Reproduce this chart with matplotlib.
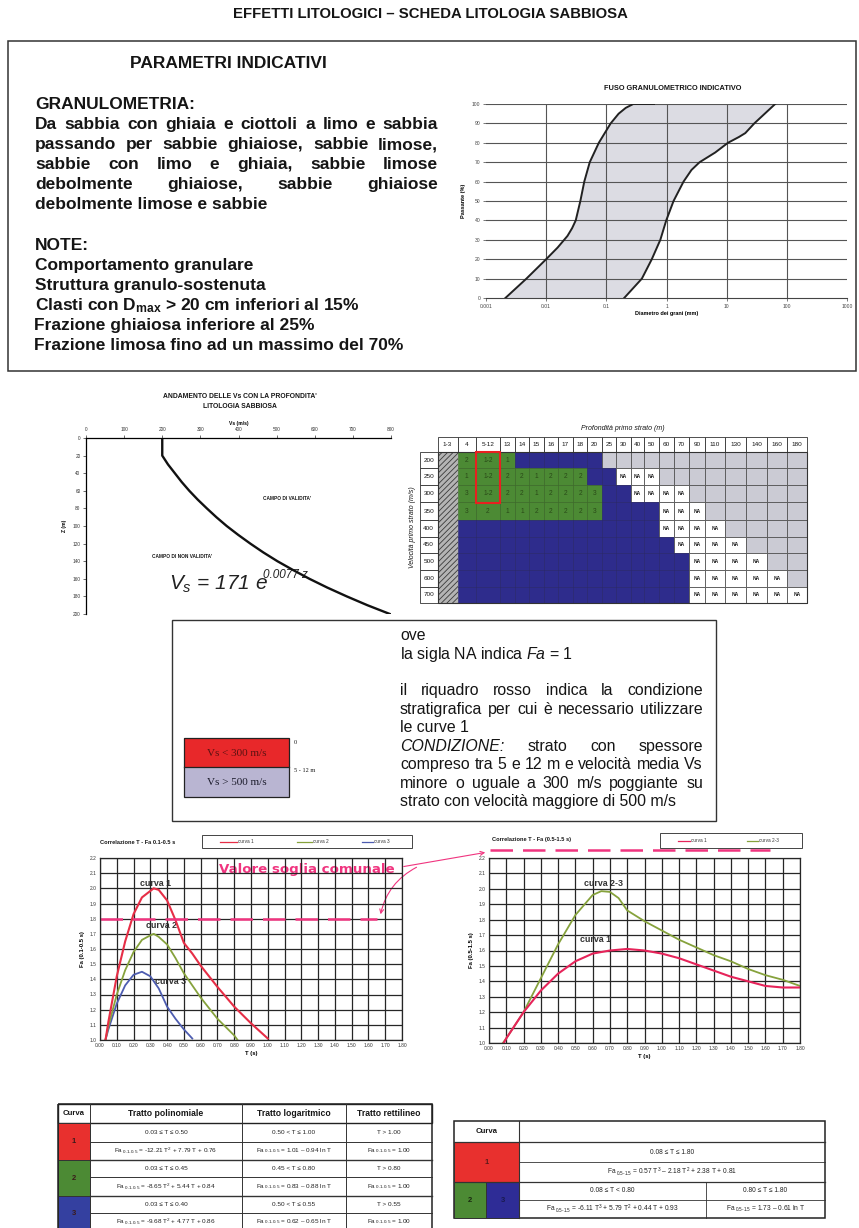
import numpy as np
import matplotlib
matplotlib.use('Agg')
import matplotlib.pyplot as plt
from matplotlib.patches import Rectangle, FancyArrowPatch
from matplotlib.ticker import NullLocator, FixedLocator, FormatStrFormatter

plt.rcParams['font.family'] = ['Liberation Sans', 'DejaVu Sans']
plt.rcParams['mathtext.fontset'] = 'custom'
plt.rcParams['mathtext.rm'] = 'Liberation Sans'
plt.rcParams['mathtext.it'] = 'Liberation Sans:italic'
plt.rcParams['mathtext.bf'] = 'Liberation Sans:bold'
plt.rcParams['hatch.linewidth'] = 0.6

# ------------------------------------------------------------------ data
title = 'EFFETTI LITOLOGICI – SCHEDA LITOLOGIA SABBIOSA'
gran_lines = ['Da sabbia con ghiaia e ciottoli a limo e sabbia',
              'passando per sabbie ghiaiose, sabbie limose,',
              'sabbie con limo e ghiaia, sabbie limose',
              'debolmente ghiaiose, sabbie ghiaiose',
              'debolmente limose e sabbie']
note_lines = ['Comportamento granulare',
              'Struttura granulo-sostenuta',
              r'Clasti con D$_{\mathbf{max}}$ > 20 cm inferiori al 15%',
              'Frazione ghiaiosa inferiore al 25%',
              'Frazione limosa fino ad un massimo del 70%']

# grain size envelope (diameter mm, passing %)
grain_fine_d = [0.0021, 0.0047, 0.010, 0.0155, 0.0226, 0.027, 0.031, 0.037, 0.043, 0.053, 0.075, 0.118, 0.16, 0.21, 0.28, 0.62]
grain_fine_p = [0, 10, 20, 26, 32, 36, 40, 50, 60, 70, 80, 90, 95, 98, 100, 100]
grain_coarse_d = [0.198, 0.39, 0.57, 0.79, 0.99, 1.31, 1.92, 2.6, 3.55, 6.45, 10.5, 16.0, 20.4, 28.8, 64]
grain_coarse_p = [0, 10, 20, 30, 40, 50, 60, 66, 70, 75, 80, 83, 85, 90, 100]
grain_xticks = [0.001, 0.01, 0.1, 1, 10, 100, 1000]
grain_xlabels = ['0.001', '0.01', '0.1', '1', '10', '100', '1000']
grain_yticks = [0, 10, 20, 30, 40, 50, 60, 70, 80, 90, 100]

# Vs with depth
vs_z = [0, 20, 30, 40, 50, 60, 70, 80, 90, 100, 110, 120, 130, 140, 150, 160, 170, 180, 190, 200]
vs_v = [200, 200, 215, 233, 251, 271, 293, 317, 342, 369, 399, 431, 465, 502, 543, 586, 633, 684, 738, 797]
vs_xticks = [0, 100, 200, 300, 400, 500, 600, 700, 800]
vs_yticks = [0, 20, 40, 60, 80, 100, 120, 140, 160, 180, 200]

# Fa abacus table
depth_cols = ['1-3', '4', '5-12', '13', '14', '15', '16', '17', '18', '20', '25', '30',
              '40', '50', '60', '70', '90', '110', '130', '140', '160', '180']
vel_rows = ['200', '250', '300', '350', '400', '450', '500', '600', '700']
fa_green = [['2', '1-2', '1'],
            ['1', '1-2', '2', '2', '1', '2', '2', '2'],
            ['3', '1-2', '2', '2', '1', '2', '2', '2', '3'],
            ['3', '2', '1', '1', '2', '2', '2', '2', '3'],
            [], [], [], [], []]
fa_blue = [6, 2, 2, 4, 13, 14, 15, 15, 15]
fa_na = [0, 3, 4, 3, 4, 4, 4, 5, 6]

# Fa curves 0.1-0.5 s
t1 = [0.03, 0.05, 0.10, 0.15, 0.20, 0.25, 0.32, 0.35, 0.40, 0.45, 0.50, 0.55, 0.60, 0.65, 0.70, 0.80, 0.90, 1.00]
fa1 = [0.98, 1.12, 1.42, 1.65, 1.83, 1.94, 2.00, 1.99, 1.92, 1.79, 1.64, 1.57, 1.49, 1.42, 1.35, 1.22, 1.11, 1.01]
t2 = [0.03, 0.05, 0.10, 0.15, 0.20, 0.25, 0.30, 0.32, 0.35, 0.40, 0.45, 0.50, 0.60, 0.70, 0.80, 0.82]
fa2 = [0.99, 1.09, 1.30, 1.46, 1.58, 1.66, 1.69, 1.70, 1.68, 1.63, 1.54, 1.44, 1.28, 1.14, 1.03, 1.00]
t3 = [0.03, 0.05, 0.10, 0.15, 0.20, 0.25, 0.30, 0.35, 0.40, 0.45, 0.50, 0.55]
fa3 = [0.99, 1.07, 1.24, 1.36, 1.43, 1.45, 1.42, 1.34, 1.22, 1.14, 1.07, 1.01]
soglia_fa = 1.8
soglia_t = [0.0, 1.65]

# Fa curves 0.5-1.5 s
tr = [0.08, 0.10, 0.20, 0.30, 0.40, 0.50, 0.60, 0.70, 0.80, 0.90, 1.00, 1.10, 1.20, 1.30, 1.40, 1.50, 1.60, 1.70, 1.80]
fr1 = [0.99, 1.03, 1.20, 1.34, 1.45, 1.53, 1.58, 1.60, 1.61, 1.60, 1.58, 1.55, 1.51, 1.47, 1.43, 1.40, 1.37, 1.36, 1.36]
tr23 = [0.08, 0.10, 0.20, 0.30, 0.40, 0.50, 0.60, 0.65, 0.70, 0.75, 0.80, 0.90, 1.00, 1.10, 1.20, 1.30, 1.40, 1.50, 1.60, 1.70, 1.80]
fr23 = [1.00, 1.03, 1.20, 1.42, 1.64, 1.83, 1.96, 1.985, 1.98, 1.94, 1.86, 1.79, 1.73, 1.67, 1.62, 1.57, 1.53, 1.48, 1.44, 1.41, 1.37]
fa_xticks = [round(0.1 * i, 2) for i in range(19)]
fa_yticks = [round(1.0 + 0.1 * i, 1) for i in range(13)]

# formula tables
tab1_head = ['Curva', 'Tratto polinomiale', 'Tratto logaritmico', 'Tratto rettilineo']
tab1_rows = [
    ['0.03 ≤ T ≤ 0.50', '0.50 < T ≤ 1.00', 'T > 1.00'],
    [r'Fa$_{\ 0.1\text{-}0.5}$ = -12.21 T$^2$ + 7.79 T + 0.76', r'Fa$_{\ 0.1\text{-}0.5}$ = 1.01 – 0.94 ln T', r'Fa$_{\ 0.1\text{-}0.5}$ = 1.00'],
    ['0.03 ≤ T ≤ 0.45', '0.45 < T ≤ 0.80', 'T > 0.80'],
    [r'Fa$_{\ 0.1\text{-}0.5}$ = -8.65 T$^2$ + 5.44 T + 0.84', r'Fa$_{\ 0.1\text{-}0.5}$ = 0.83 – 0.88 ln T', r'Fa$_{\ 0.1\text{-}0.5}$ = 1.00'],
    ['0.03 ≤ T ≤ 0.40', '0.50 < T ≤ 0.55', 'T > 0.55'],
    [r'Fa$_{\ 0.1\text{-}0.5}$ = -9.68 T$^2$ + 4.77 T + 0.86', r'Fa$_{\ 0.1\text{-}0.5}$ = 0.62 – 0.65 ln T', r'Fa$_{\ 0.1\text{-}0.5}$ = 1.00'],
]
tab2_row1 = ['0.08 ≤ T ≤ 1.80', r'Fa$_{\ 0.5\text{-}1.5}$ = 0.57 T$^3$ – 2.18 T$^2$ + 2.38 T + 0.81']
tab2_row2 = ['0.08 ≤ T < 0.80', '0.80 ≤ T ≤ 1.80',
             r'Fa$_{\ 0.5\text{-}1.5}$ = -6.11 T$^3$ + 5.79 T$^2$ + 0.44 T + 0.93',
             r'Fa$_{\ 0.5\text{-}1.5}$ = 1.73 – 0.61 ln T']

# ------------------------------------------------------------------ figure
W, H = 859, 1228
fig = plt.figure(figsize=(W / 100, H / 100), dpi=100)
bg = fig.add_axes([0, 0, 1, 1])
bg.set_xlim(0, W)
bg.set_ylim(H, 0)
bg.axis('off')
renderer = fig.canvas.get_renderer()
INK = '#151515'
PINK = '#f0347f'
RED = '#e8302e'
GREEN = '#4c8a34'
BLUE = '#2e2c8c'


def pax(x0, y0, x1, y1):
    return fig.add_axes([x0 / W, 1 - y1 / H, (x1 - x0) / W, (y1 - y0) / H])


def justify(words, x0, x1, y, styles=None, **kw):
    ts = []
    for i, w in enumerate(words):
        extra = styles[i] if styles else {}
        ts.append(bg.text(0, y, w, va='baseline', ha='left', **kw, **extra))
    ws = [t.get_window_extent(renderer).width for t in ts]
    gap = (x1 - x0 - sum(ws)) / max(len(words) - 1, 1)
    x = x0
    for t, w in zip(ts, ws):
        t.set_x(x)
        x += w + gap


def rect(x0, y0, x1, y1, **kw):
    bg.add_patch(Rectangle((x0, y0), x1 - x0, y1 - y0, **kw))


# title
bg.text(430, 18.5, title, ha='center', va='baseline', fontsize=10.7, fontweight='bold', color=INK)

# top box
rect(7.5, 41, 856, 371, fill=False, ec='#333', lw=1.1)
bg.text(228, 68.5, 'PARAMETRI INDICATIVI', ha='center', va='baseline', fontsize=12.5, fontweight='bold', color=INK)
bg.text(35, 109, 'GRANULOMETRIA:', va='baseline', fontsize=12.5, fontweight='bold', color=INK)
body = dict(fontsize=12.5, fontweight='bold', color=INK)
for i, line in enumerate(gran_lines):
    yb = 129.3 + 20 * i
    if i < len(gran_lines) - 1:
        justify(line.split(), 35, 438, yb, **body)
    else:
        bg.text(35, yb, line, va='baseline', **body)
bg.text(35, 250, 'NOTE:', va='baseline', **body)
for i, line in enumerate(note_lines):
    bg.text(35 if i < 3 else 33.5, 270 + 20 * i, line, va='baseline', **body)

# grain-size chart
bg.text(673, 88, 'FUSO GRANULOMETRICO INDICATIVO', ha='center', va='center', fontsize=5.3, fontweight='bold', color=INK)
ag = pax(486, 104, 847, 298)
ag.set_xscale('log')
poly_x = grain_fine_d + grain_coarse_d[::-1]
poly_y = grain_fine_p + grain_coarse_p[::-1]
ag.fill(poly_x, poly_y, color='#dcdce3', lw=0, zorder=1)
for v in grain_xticks[1:-1]:
    ag.axvline(v, color='#555', lw=0.8, zorder=2)
for v in grain_yticks[1:]:
    ag.axhline(v, color='#555', lw=0.8, zorder=2)
ag.plot(grain_fine_d, grain_fine_p, color='#222', lw=1.4, zorder=3)
ag.plot(grain_coarse_d, grain_coarse_p, color='#222', lw=1.4, zorder=3)
ag.set_xlim(1e-3, 1e3)
ag.set_ylim(0, 100)
ag.xaxis.set_major_locator(FixedLocator(grain_xticks))
ag.xaxis.set_minor_locator(NullLocator())
ag.set_xticklabels(grain_xlabels)
ag.set_yticks(grain_yticks)
for s in ['top', 'right', 'left']:
    ag.spines[s].set_visible(False)
ag.spines['bottom'].set_color('#444')
ag.spines['bottom'].set_linewidth(0.8)
ag.tick_params(labelsize=3.6, length=2, width=0.5, pad=2, colors='#444')
ag.set_facecolor('none')
ag.set_ylabel('Passante (%)', fontsize=4, fontweight='bold', labelpad=4)
ag.set_xlabel('Diametro dei grani (mm)', fontsize=4, fontweight='bold', labelpad=2)

# Vs chart
bg.text(240, 396, "ANDAMENTO DELLE Vs CON LA PROFONDITA'", ha='center', va='center', fontsize=4.9, fontweight='bold', color=INK)
bg.text(240, 407, 'LITOLOGIA SABBIOSA', ha='center', va='center', fontsize=4.9, fontweight='bold', color=INK)
av = pax(86, 438, 391, 614)
av.plot(vs_v, vs_z, color='#111', lw=1.7)
av.set_xlim(0, 800)
av.set_ylim(200, 0)
av.set_xticks(vs_xticks)
av.set_yticks(vs_yticks)
av.xaxis.tick_top()
av.xaxis.set_label_position('top')
av.spines['bottom'].set_visible(False)
av.spines['right'].set_visible(False)
av.spines['top'].set_linewidth(0.9)
av.spines['left'].set_linewidth(0.9)
av.tick_params(labelsize=3.4, length=2, width=0.5, pad=2, colors='#333')
av.set_xlabel('Vs (m/s)', fontsize=3.6, fontweight='bold', labelpad=2)
av.set_ylabel('Z (m)', fontsize=3.6, fontweight='bold', labelpad=4)
av.set_facecolor('none')
bg.text(287, 498, "CAMPO DI VALIDITA'", ha='center', va='center', fontsize=3.4, fontweight='bold', color=INK)
bg.text(182, 556, "CAMPO DI NON VALIDITA'", ha='center', va='center', fontsize=3.4, fontweight='bold', color=INK)
bg.text(169, 590, r'$\mathit{V_s}$ = 171 $\mathit{e}$', va='baseline',
        fontsize=15, style='italic', color='#222')
bg.text(263, 578, '0.0077 z', va='baseline', fontsize=8.5, style='italic', color='#222')

# Fa table
bg.text(623, 428, 'Profondità primo strato (m)', ha='center', va='center', fontsize=5, style='italic', color=INK)
bg.text(413, 527, 'Velocità primo strato (m/s)', ha='center', va='center', fontsize=5, style='italic', rotation=90, color=INK)
col_edges = [437.5, 457.5, 476, 500, 514.6, 529.1, 543.7, 558.2, 572.8, 587.3, 601.9, 616.4, 631,
             644, 659, 674, 689, 705, 725, 746, 767, 787, 807]
row_edges = [451.7, 468.3, 485, 502.3, 520, 536.7, 553.3, 570, 586.7, 603.3]
head_top = 436.7
for j, lab in enumerate(depth_cols):
    rect(col_edges[j], head_top, col_edges[j + 1], row_edges[0], fc='white', ec='#333', lw=0.6)
    bg.text((col_edges[j] + col_edges[j + 1]) / 2, (head_top + row_edges[0]) / 2, lab,
            ha='center', va='center', fontsize=4.6, color=INK)
for i, lab in enumerate(vel_rows):
    rect(420, row_edges[i], 437.5, row_edges[i + 1], fc='white', ec='#333', lw=0.6)
    bg.text(428.7, (row_edges[i] + row_edges[i + 1]) / 2, lab, ha='center', va='center', fontsize=4.6, color=INK)
# hatched first column
rect(col_edges[0], row_edges[0], col_edges[1], row_edges[-1], fc='#b4b4b4', ec='#3a3a3a', lw=0, hatch='//////')
for i in range(len(vel_rows)):
    y0, y1 = row_edges[i], row_edges[i + 1]
    ng = len(fa_green[i])
    nb = fa_blue[i]
    nn = fa_na[i]
    for j in range(1, len(depth_cols)):
        k = j - 1
        x0, x1 = col_edges[j], col_edges[j + 1]
        if k < ng:
            rect(x0, y0, x1, y1, fc=GREEN, ec='#3c6a28', lw=0.5)
            bg.text((x0 + x1) / 2, (y0 + y1) / 2, fa_green[i][k], ha='center', va='center',
                    fontsize=4.8, color='#2a4a18')
        elif k < ng + nb:
            rect(x0, y0, x1, y1, fc=BLUE, ec='#28266e', lw=0.5)
        elif k < ng + nb + nn:
            rect(x0, y0, x1, y1, fc='white', ec='#555', lw=0.6)
            bg.text((x0 + x1) / 2, (y0 + y1) / 2, 'NA', ha='center', va='center',
                    fontsize=3.6, fontweight='bold', color='#222')
        else:
            rect(x0, y0, x1, y1, fc='#cbcbd4', ec='#555', lw=0.6)
rect(col_edges[0], row_edges[0], col_edges[-1], row_edges[-1], fill=False, ec='#333', lw=0.8)
rect(476, 451.7, 500, 502.5, fill=False, ec='#e82020', lw=1.5)

# note box
rect(172, 620, 716, 821, fill=False, ec='#333', lw=1.0)
nb_kw = dict(fontsize=11.4, color=INK)
bg.text(400, 640, 'ove', va='baseline', **nb_kw)
bg.text(400, 659, r'la sigla NA indica $\mathit{Fa}$ = 1', va='baseline', **nb_kw)
justify('il riquadro rosso indica la condizione'.split(), 400, 703, 695, **nb_kw)
justify('stratigrafica per cui è necessario utilizzare'.split(), 400, 703, 714, **nb_kw)
bg.text(400, 732, 'le curve 1', va='baseline', **nb_kw)
cw = 'CONDIZIONE: strato con spessore'.split()
justify(cw, 400, 703, 751, styles=[dict(style='italic'), {}, {}, {}], **nb_kw)
justify('compreso tra 5 e 12 m e velocità media Vs'.split(), 400, 703, 769, **nb_kw)
justify('minore o uguale a 300 m/s poggiante su'.split(), 400, 703, 788, **nb_kw)
bg.text(400, 806, 'strato con velocità maggiore di 500 m/s', va='baseline', **nb_kw)
# stratigraphy sketch
rect(184, 738, 289, 767, fc='#e8282a', ec='none')
rect(184, 767, 289, 797, fc='#b9b5d2', ec='none')
rect(184, 738, 289, 797, fill=False, ec='#222', lw=0.9)
bg.plot([184, 289], [767, 767], color='#222', lw=0.9)
serif = ['Liberation Serif', 'DejaVu Serif']
bg.text(236.5, 753, 'Vs < 300 m/s', ha='center', va='center', fontsize=8, family=serif, color='#5a1212')
bg.text(236.5, 782.5, 'Vs > 500 m/s', ha='center', va='center', fontsize=8, family=serif, color='#1a1a2a')
bg.text(294, 742, '0', ha='left', va='center', fontsize=4.5, family=serif, color=INK)
bg.text(294, 771, '5 - 12 m', ha='left', va='center', fontsize=4.5, family=serif, color=INK)


# Fa charts
def fa_axes(x0, y0, x1, y1, ylabel):
    a = pax(x0, y0, x1, y1)
    a.set_xlim(0, 1.8)
    a.set_ylim(1.0, 2.2)
    a.set_xticks(fa_xticks)
    a.set_yticks(fa_yticks)
    a.xaxis.set_major_formatter(FormatStrFormatter('%.2f'))
    a.yaxis.set_major_formatter(FormatStrFormatter('%.1f'))
    a.grid(True, color='#262626', lw=0.9)
    a.set_axisbelow(True)
    for s in a.spines.values():
        s.set_color('#262626')
        s.set_linewidth(0.9)
    a.tick_params(labelsize=3.5, length=0, pad=2.5, colors='#333')
    a.set_xlabel('T (s)', fontsize=4.2, fontweight='bold', labelpad=1.5)
    a.set_ylabel(ylabel, fontsize=4.2, fontweight='bold', labelpad=3)
    a.set_facecolor('none')
    return a


a1 = fa_axes(100, 858, 402, 1040, 'Fa (0.1-0.5 s)')
a1.plot(t3, fa3, color='#4d5cb0', lw=1.3)
a1.plot(t2, fa2, color='#86a23c', lw=1.3)
a1.plot(t1, fa1, color='#e62e46', lw=1.5)
a1.plot(soglia_t, [soglia_fa, soglia_fa], color=PINK, lw=1.8, dashes=(9, 4))
lab_kw = dict(ha='center', va='center', fontsize=6.4, fontweight='bold', color='#333')
bg.text(156, 883, 'curva 1', **lab_kw)
bg.text(161, 926, 'curva 2', **lab_kw)
bg.text(171, 982, 'curva 3', **lab_kw)
bg.text(100, 842, 'Correlazione T - Fa 0.1-0.5 s', ha='left', va='center', fontsize=4.1, fontweight='bold', color=INK)
rect(202, 835, 412, 848, fc='white', ec='#444', lw=0.7)
for (xa, xb, c, lab) in [(220, 237, '#e62e46', 'curva 1'), (297, 312, '#86a23c', 'curva 2'),
                         (362, 373, '#4d5cb0', 'curva 3')]:
    bg.plot([xa, xb], [841.5, 841.5], color=c, lw=0.9)
    bg.text(xb + 1, 841.5, lab, ha='left', va='center', fontsize=3.4, color='#333')

a2 = fa_axes(489, 858, 800, 1043, 'Fa (0.5-1.5 s)')
a2.plot(tr23, fr23, color='#86a23c', lw=1.3)
a2.plot(tr, fr1, color='#e6245a', lw=1.5)
bg.text(603, 883, 'curva 2-3', **lab_kw)
bg.text(595, 939, 'curva 1', **lab_kw)
bg.text(492, 840, 'Correlazione T - Fa (0.5-1.5 s)', ha='left', va='center', fontsize=4.1, fontweight='bold', color=INK)
rect(660, 833, 802, 848, fc='white', ec='#444', lw=0.7)
for (xa, xb, c, lab) in [(678, 690, '#e6245a', 'curva 1'), (747, 758, '#86a23c', 'curva 2-3')]:
    bg.plot([xa, xb], [840.5, 840.5], color=c, lw=0.9)
    bg.text(xb + 1, 840.5, lab, ha='left', va='center', fontsize=3.4, color='#333')
bg.plot([490, 770], [850, 850], color=PINK, lw=1.8, dashes=(9, 4))

# threshold annotation
bg.text(307, 869, 'Valore soglia comunale', ha='center', va='center', fontsize=9.6,
        fontweight='bold', family=['DejaVu Sans'], color=PINK)
bg.add_patch(FancyArrowPatch((401, 867), (488, 852), arrowstyle='->', mutation_scale=7,
                             color=PINK, lw=0.8))
bg.add_patch(FancyArrowPatch((419, 866), (380, 917), arrowstyle='->', mutation_scale=7,
                             color=PINK, lw=0.8, connectionstyle='arc3,rad=0.25'))

# formula table 1
cx = [58, 90, 242, 346, 432]
ry = [1104, 1123, 1142, 1160, 1177, 1196, 1213, 1231]
rect(cx[0], ry[0], cx[-1], ry[1], fc='white', ec='#222', lw=1.0)
for j, lab in enumerate(tab1_head):
    bg.text((cx[j] + cx[j + 1]) / 2, (ry[0] + ry[1]) / 2, lab, ha='center', va='center',
            fontsize=6.2 if j else 5.6, fontweight='bold', color=INK)
for x in cx[1:-1]:
    bg.plot([x, x], [ry[0], ry[-1]], color='#333', lw=0.7)
curve_cols = [RED, GREEN, '#3440a0']
for k in range(3):
    rect(cx[0], ry[1 + 2 * k], cx[1], ry[3 + 2 * k], fc=curve_cols[k], ec='#333', lw=0.7)
    bg.text((cx[0] + cx[1]) / 2, (ry[1 + 2 * k] + ry[3 + 2 * k]) / 2, str(k + 1), ha='center', va='center',
            fontsize=5.5, fontweight='bold', color='#3a1a1a')
for r in range(6):
    y0, y1 = ry[1 + r], ry[2 + r]
    for j in range(3):
        bg.text((cx[j + 1] + cx[j + 2]) / 2, (y0 + y1) / 2, tab1_rows[r][j], ha='center', va='center',
                fontsize=4.6, color='#222')
    bg.plot([cx[1], cx[-1]], [y1, y1], color='#333', lw=0.7 if r % 2 == 0 else 1.0)
rect(cx[0], ry[0], cx[-1], ry[-1], fill=False, ec='#222', lw=1.1)

# formula table 2
qx = [454, 486, 519, 706, 825]
qy = [1121, 1142, 1162, 1182, 1200, 1218]
rect(qx[0], qy[0], qx[-1], qy[-1], fc='white', ec='#222', lw=1.1)
bg.plot([qx[2], qx[2]], [qy[0], qy[-1]], color='#333', lw=0.8)
bg.plot([qx[0], qx[-1]], [qy[1], qy[1]], color='#333', lw=0.9)
bg.plot([qx[0], qx[-1]], [qy[3], qy[3]], color='#333', lw=0.9)
bg.plot([qx[2], qx[-1]], [qy[2], qy[2]], color='#333', lw=0.6)
bg.plot([qx[2], qx[-1]], [qy[4], qy[4]], color='#333', lw=0.6)
bg.plot([qx[3], qx[3]], [qy[3], qy[5]], color='#333', lw=0.6)
bg.text((qx[0] + qx[2]) / 2, (qy[0] + qy[1]) / 2, 'Curva', ha='center', va='center', fontsize=5.6,
        fontweight='bold', color=INK)
rect(qx[0], qy[1], qx[2], qy[3], fc=RED, ec='#333', lw=0.7)
bg.text((qx[0] + qx[2]) / 2, (qy[1] + qy[3]) / 2, '1', ha='center', va='center', fontsize=5.5,
        fontweight='bold', color='#5a1a1a')
rect(qx[0], qy[3], qx[1], qy[5], fc=GREEN, ec='#333', lw=0.7)
rect(qx[1], qy[3], qx[2], qy[5], fc='#2e2c96', ec='#333', lw=0.7)
bg.text((qx[0] + qx[1]) / 2, (qy[3] + qy[5]) / 2, '2', ha='center', va='center', fontsize=5.5,
        fontweight='bold', color='#1a2a10')
bg.text((qx[1] + qx[2]) / 2, (qy[3] + qy[5]) / 2, '3', ha='center', va='center', fontsize=5.5,
        fontweight='bold', color='#1a1a50')
tb = dict(ha='center', va='center', fontsize=4.8, color='#222')
bg.text((qx[2] + qx[-1]) / 2, (qy[1] + qy[2]) / 2, tab2_row1[0], **tb)
bg.text((qx[2] + qx[-1]) / 2, (qy[2] + qy[3]) / 2, tab2_row1[1], **tb)
bg.text((qx[2] + qx[3]) / 2, (qy[3] + qy[4]) / 2, tab2_row2[0], **tb)
bg.text((qx[3] + qx[4]) / 2, (qy[3] + qy[4]) / 2, tab2_row2[1], **tb)
bg.text((qx[2] + qx[3]) / 2, (qy[4] + qy[5]) / 2, tab2_row2[2], **tb)
bg.text((qx[3] + qx[4]) / 2, (qy[4] + qy[5]) / 2, tab2_row2[3], **tb)

fig.savefig('out.png', dpi=100)
